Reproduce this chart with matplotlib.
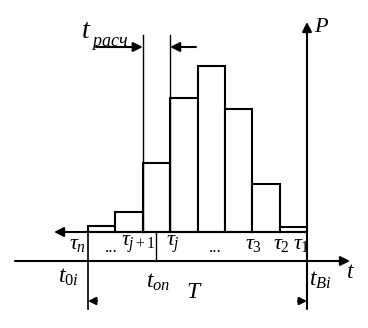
import numpy as np
import matplotlib
matplotlib.use('Agg')
import matplotlib.pyplot as plt

plt.rcParams['mathtext.fontset'] = 'custom'
plt.rcParams['mathtext.rm'] = 'Liberation Serif'
plt.rcParams['mathtext.it'] = 'Liberation Serif:italic'
plt.rcParams['font.family'] = 'Liberation Serif'

# bar heights (from n down to 1, left to right)
heights = [6, 20, 69, 134, 166, 123, 48, 5]
tau_labels = [r'$\tau_n$', '...', r'$\tau_{j+1}$', r'$\tau_j$', '...',
              r'$\tau_3$', r'$\tau_2$', r'$\tau_1$']
tau_x = [78, 111, 138, 173, 215, 254, 281, 301]

x0, x1 = 88, 307          # start / end of the interval
bw = (x1 - x0) / len(heights)
lefts = x0 + bw * np.arange(len(heights))

fig = plt.figure(figsize=(3.68, 3.28), dpi=100)
ax = fig.add_axes([0, 0, 1, 1])
ax.set_xlim(0, 368)
ax.set_ylim(232 - 328, 232)
ax.axis('off')

lw = 1.5
ax.bar(lefts, heights, width=bw, align='edge', facecolor='white',
       edgecolor='black', linewidth=lw, zorder=2)

def arrow(tip, tail, ms=14):
    ax.annotate('', xy=tip, xytext=tail,
                arrowprops=dict(arrowstyle='-|>', mutation_scale=ms, lw=lw,
                                color='black', shrinkA=0, shrinkB=0), zorder=3)

# baseline with arrow to the left
arrow((54, 0), (x1, 0))
# time axis
arrow((350, -29), (15, -29))
# P axis
arrow((x1, 210), (x1, -77))
ax.plot([x0, x0], [0, -77], color='k', lw=1.2)
# tau_j+1 / tau_j separator
ax.plot([156, 156], [0, -29], color='k', lw=1.0)

# t_расч dimension
t_lo = lefts[2]
t_hi = lefts[3]
ax.plot([t_lo, t_lo], [197, 0], color='k', lw=1.0)
ax.plot([t_hi, t_hi], [197, 0], color='k', lw=1.0)
arrow((t_lo, 185), (96, 185))
arrow((t_hi, 185), (196, 185))

# T dimension arrowheads
arrow((x0, -69), (x0 + 9, -69), ms=11)
arrow((x1, -69), (x1 - 9, -69), ms=11)

for lab, x in zip(tau_labels, tau_x):
    if lab == '...':
        ax.text(x, -16, lab, fontsize=12, ha='center', va='center')
    else:
        ax.text(x, -12, lab, fontsize=16, ha='center', va='center')

ax.text(81, 200, r'$t$', fontsize=20, ha='left', va='center')
ax.text(91, 188, r'$расч$', fontsize=13, ha='left', va='center')
ax.text(314, 204, r'$P$', fontsize=16, ha='left', va='center')
ax.text(346, -40, r'$t$', fontsize=17, ha='left', va='center')
ax.text(58, -45, r'$t_{0i}$', fontsize=17, ha='left', va='center')
ax.text(146, -50, r'$t_{on}$', fontsize=17, ha='left', va='center')
ax.text(186, -61, r'$T$', fontsize=17, ha='left', va='center')
ax.text(309, -48, r'$t_{Bi}$', fontsize=17, ha='left', va='center')

fig.savefig('out.png', dpi=100)
